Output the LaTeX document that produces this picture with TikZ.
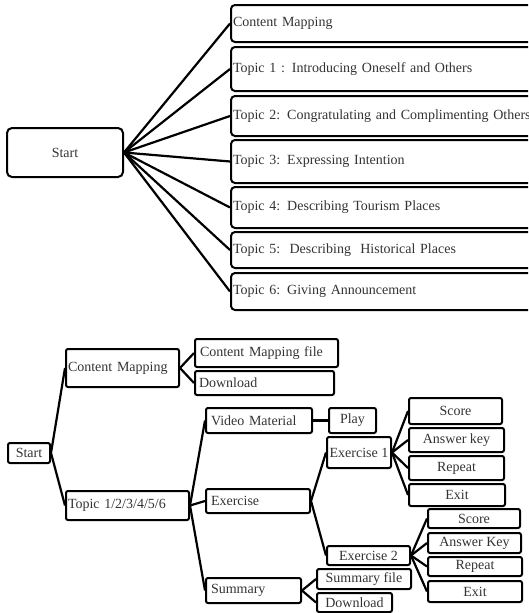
\documentclass[tikz,border=0pt]{standalone}
\usepackage{fontspec}
\setmainfont{Liberation Serif}
\usepackage{tikz}
\usepackage{xcolor}

\begin{document}
\begin{tikzpicture}[x=1pt,y=-1pt,
  box/.style={draw,line width=2pt,rounded corners=2pt,inner sep=0pt,text=black!80,font=\fontsize{14}{16}\selectfont},
  lbox/.style={box,anchor=west,align=left,inner xsep=2pt},
  cbox/.style={box,anchor=west,align=center},
  link/.style={line width=2.2pt}]
\useasboundingbox (0,0) rectangle (528,613);
\clip (0,0) rectangle (528,613);

% first map
\node[box,rounded corners=5pt,minimum width=116pt,minimum height=49pt] (start) at (65,152.5) {Start};

\node[lbox,rounded corners=4pt,text width=316pt,minimum height=37pt] (cmap) at (230,23.5) {Content Mapping};
\node[lbox,rounded corners=4pt,text width=316pt,minimum height=44pt] (topic1) at (230,69) {Topic 1 : Introducing Oneself and Others};
\node[lbox,rounded corners=4pt,text width=316pt,minimum height=40pt] (topic2) at (230,116) {Topic 2: Congratulating and Complimenting Others};
\node[lbox,rounded corners=4pt,text width=316pt,minimum height=43pt] (topic3) at (230,161.5) {Topic 3: Expressing Intention};
\node[lbox,rounded corners=4pt,text width=316pt,minimum height=41pt] (topic4) at (230,207.5) {Topic 4: Describing Tourism Places};
\node[lbox,rounded corners=4pt,text width=316pt,minimum height=36pt] (topic5) at (230,250) {Topic 5:\ \ Describing\ \ Historical Places};
\node[lbox,rounded corners=4pt,text width=316pt,minimum height=37pt] (topic6) at (230,291.5) {Topic 6: Giving Announcement};

\draw[link] (start.east) -- (cmap.west);
\draw[link] (start.east) -- (topic1.west);
\draw[link] (start.east) -- (topic2.west);
\draw[link] (start.east) -- (topic3.west);
\draw[link] (start.east) -- (topic4.west);
\draw[link] (start.east) -- (topic5.west);
\draw[link] (start.east) -- (topic6.west);

% second map
\node[cbox,minimum width=42pt,minimum height=20pt] (begin) at (7,453) {Start};
\node[lbox,text width=109pt,minimum height=38pt] (mapping) at (65,368) {Content Mapping};
\node[lbox,text width=119pt,minimum height=29pt] (topics) at (65,505.5) {Topic 1/2/3/4/5/6};

\node[lbox,inner xsep=5pt,text width=133pt,minimum height=28pt] (mapfile) at (194,353) {Content Mapping file};
\node[lbox,inner xsep=4pt,text width=131pt,minimum height=24pt] (mapdown) at (194,383) {Download};

\node[lbox,inner xsep=5pt,text width=96pt,minimum height=25pt] (video) at (205,420.5) {Video Material};
\node[cbox,minimum width=47pt,minimum height=25pt] (play) at (328,420.5) {Play};
\node[lbox,inner xsep=5pt,text width=94pt,minimum height=24pt] (exercise) at (205,501) {Exercise};
\node[lbox,inner xsep=5pt,text width=85pt,minimum height=25pt] (summary) at (205,590.5) {Summary};

\node[cbox,minimum width=64pt,minimum height=31pt] (ex1) at (326,452.5) {Exercise 1};
\node[cbox,minimum width=83pt,minimum height=19pt] (ex2) at (326,555.5) {Exercise 2};
\node[cbox,minimum width=94pt,minimum height=20pt] (sumfile) at (316,579) {Summary file};
\node[cbox,minimum width=75pt,minimum height=19pt] (sumdown) at (316,602.5) {Download};

\node[cbox,minimum width=93pt,minimum height=26pt] (score1) at (408,411) {Score};
\node[cbox,minimum width=95pt,minimum height=24pt] (key1) at (408,440) {Answer key};
\node[cbox,minimum width=95pt,minimum height=24pt] (repeat1) at (408,468) {Repeat};
\node[cbox,minimum width=96pt,minimum height=22pt] (exit1) at (408,495) {Exit};

\node[cbox,minimum width=92pt,minimum height=19pt] (score2) at (427,518.5) {Score};
\node[cbox,minimum width=93pt,minimum height=20pt] (key2) at (427,543) {Answer Key};
\node[cbox,minimum width=94pt,minimum height=19pt] (repeat2) at (427,566.5) {Repeat};
\node[cbox,minimum width=94pt,minimum height=21pt] (exit2) at (427,591.5) {Exit};

\draw[link] (begin.east) -- (mapping.west);
\draw[link] (begin.east) -- (topics.west);
\draw[link] (mapping.east) -- (mapfile.west);
\draw[link] (mapping.east) -- (mapdown.west);
\draw[link] (topics.east) -- (video.west);
\draw[link] (topics.east) -- (exercise.west);
\draw[link] (topics.east) -- (summary.west);
\draw[link] (video.east) -- (play.west);
\draw[link] (exercise.east) -- (ex1.west);
\draw[link] (exercise.east) -- (ex2.west);
\draw[link] (summary.east) -- (sumfile.west);
\draw[link] (summary.east) -- (sumdown.west);
\draw[link] (ex1.east) -- (score1.west);
\draw[link] (ex1.east) -- (key1.west);
\draw[link] (ex1.east) -- (repeat1.west);
\draw[link] (ex1.east) -- (exit1.west);
\draw[link] (ex2.east) -- (score2.west);
\draw[link] (ex2.east) -- (key2.west);
\draw[link] (ex2.east) -- (repeat2.west);
\draw[link] (ex2.east) -- (exit2.west);
\end{tikzpicture}
\end{document}
